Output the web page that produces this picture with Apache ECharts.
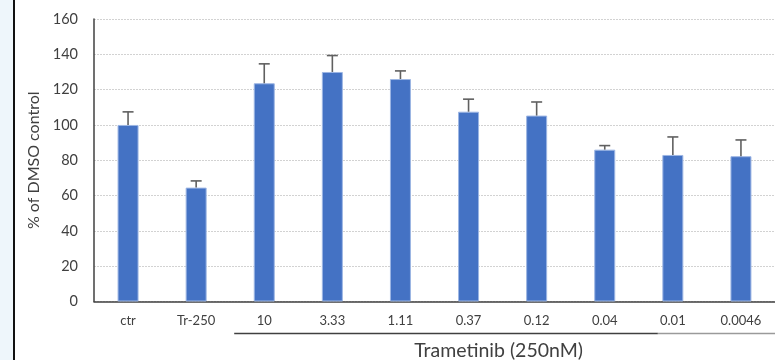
<!DOCTYPE html>
<html>
<head>
<meta charset="utf-8">
<script src="https://cdn.jsdelivr.net/npm/echarts@6/dist/echarts.min.js"></script>
<style>
  html, body { margin: 0; padding: 0; background: #ffffff; }
  #wrap { position: relative; width: 775px; height: 360px; overflow: hidden; }
  #side { position: absolute; left: 0; top: 0; width: 13px; height: 360px; background: #eef6fb; border-right: 2px solid #111; }
  #chart { position: absolute; left: 0; top: 0; width: 775px; height: 360px; }
</style>
</head>
<body>
<div id="wrap">
  <div id="side"></div>
  <div id="chart"></div>
</div>
<script>
// Cell viability relative to DMSO, mean and upper error
const categories = ['ctr', 'Tr-250', '10', '3.33', '1.11', '0.37', '0.12', '0.04', '0.01', '0.0046'];
const means = [100, 64.5, 123.6, 130, 126, 107.5, 105.3, 86, 83, 82.3];
const errors = [7.4, 3.8, 11, 9.3, 4.6, 7.1, 7.7, 2.3, 10.2, 9.2];
const yTicks = [0, 20, 40, 60, 80, 100, 120, 140, 160];
const groupTitle = 'Trametinib (250nM)';

const font = 'Lato, "Open Sans", sans-serif';
const chart = echarts.init(document.getElementById('chart'), null, { renderer: 'canvas' });

const errData = categories.map((c, i) => [i, means[i], means[i] + errors[i]]);

chart.setOption({
  animation: false,
  backgroundColor: 'transparent',
  grid: { left: 94, right: -12, top: 19, bottom: 58.5, containLabel: false },
  xAxis: {
    type: 'category',
    data: categories,
    axisLine: { lineStyle: { color: '#404040', width: 1.5 } },
    axisTick: { show: false },
    axisLabel: { color: '#404040', fontFamily: font, fontSize: 13, margin: 13 }
  },
  yAxis: {
    type: 'value',
    min: yTicks[0],
    max: yTicks[yTicks.length - 1],
    interval: 20,
    name: '% of DMSO control',
    nameLocation: 'middle',
    nameGap: 48,
    nameRotate: 90,
    nameTextStyle: { color: '#404040', fontFamily: font, fontSize: 16 },
    axisLine: { show: true, lineStyle: { color: '#404040', width: 1.5 } },
    axisTick: { show: false },
    axisLabel: { color: '#404040', fontFamily: font, fontSize: 14.5, margin: 16 },
    splitLine: { lineStyle: { color: '#d2d2d2', type: [2, 1], width: 1 } }
  },
  series: [
    {
      type: 'bar',
      data: means,
      barWidth: 21,
      itemStyle: { color: '#4472c4', borderColor: '#9db6e4', borderWidth: 1 },
      z: 2
    },
    {
      type: 'custom',
      data: errData,
      z: 3,
      renderItem: function (params, api) {
        const x = api.coord([api.value(0), api.value(1)])[0];
        const yLow = api.coord([api.value(0), api.value(1)])[1];
        const yHigh = api.coord([api.value(0), api.value(2)])[1];
        const half = 5.5;
        const style = { stroke: '#606060', lineWidth: 1.6 };
        return {
          type: 'group',
          children: [
            { type: 'line', shape: { x1: x, y1: yLow, x2: x, y2: yHigh }, style: style },
            { type: 'line', shape: { x1: x - half, y1: yHigh, x2: x + half, y2: yHigh }, style: style }
          ]
        };
      }
    }
  ]
});

// Bracket under the drug concentrations, placed from the axis scale
function drawGroup() {
  const bottomY = chart.convertToPixel({ gridIndex: 0 }, [0, 0])[1];
  const c1 = chart.convertToPixel({ xAxisIndex: 0 }, 1);
  const c2 = chart.convertToPixel({ xAxisIndex: 0 }, 2);
  const step = c2 - c1;
  const startX = (c1 + c2) / 2 + 4;
  const splitX = chart.convertToPixel({ xAxisIndex: 0 }, 8) - step * 0.22;
  const endX = chart.getWidth();
  const lineY = bottomY + 32;
  const midX = (startX + endX) / 2 - 6;
  chart.setOption({
    graphic: [
      { type: 'line', shape: { x1: startX, y1: lineY, x2: splitX, y2: lineY }, style: { stroke: '#404040', lineWidth: 1.3 } },
      { type: 'line', shape: { x1: splitX, y1: lineY, x2: endX, y2: lineY }, style: { stroke: '#9a9a9a', lineWidth: 1.3 } },
      { type: 'text', x: midX, y: lineY + 17, style: { text: groupTitle, fill: '#404040', font: '19.5px ' + font, textAlign: 'center', textVerticalAlign: 'middle' } }
    ]
  });
}
drawGroup();
</script>
</body>
</html>
